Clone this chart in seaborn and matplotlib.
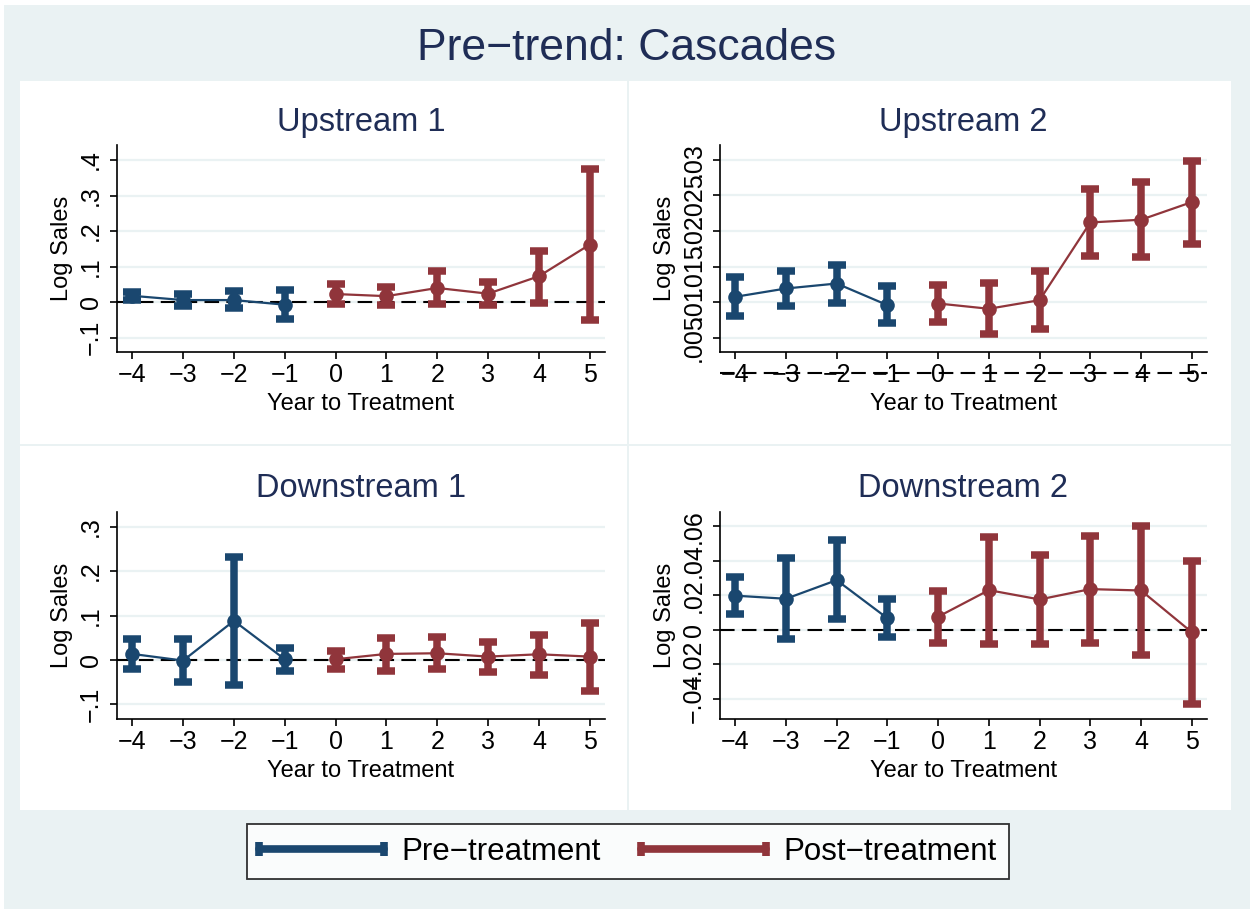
import matplotlib
matplotlib.use("Agg")
import matplotlib.pyplot as plt
from matplotlib.patches import Rectangle
from matplotlib.lines import Line2D
from matplotlib.legend_handler import HandlerLine2D
import seaborn as sns
import pandas as pd
import numpy as np

sns.set_style("white")
plt.rcParams['font.family'] = ['Liberation Sans', 'DejaVu Sans']
plt.rcParams['text.color'] = 'black'

# ---------------- data ----------------
years = [-4, -3, -2, -1, 0, 1, 2, 3, 4, 5]
period = ["Pre-treatment"] * 4 + ["Post-treatment"] * 6
xtick_labels = ["\u22124", "\u22123", "\u22122", "\u22121", "0", "1", "2", "3", "4", "5"]

up1_coef = [0.018, 0.006, 0.006, -0.007, 0.023, 0.017, 0.040, 0.024, 0.073, 0.162]
up1_lo = [0.007, -0.011, -0.016, -0.047, -0.004, -0.008, -0.004, -0.008, -0.002, -0.049]
up1_hi = [0.030, 0.024, 0.031, 0.033, 0.051, 0.042, 0.087, 0.056, 0.145, 0.374]
up1_yticks = [-0.1, 0, 0.1, 0.2, 0.3, 0.4]
up1_ylabels = ["\u2212.1", "0", ".1", ".2", ".3", ".4"]

up2_coef = [0.01075, 0.01192, 0.01262, 0.00958, 0.00981, 0.00907, 0.01028, 0.02121, 0.02159, 0.02407]
up2_lo = [0.00804, 0.00944, 0.00991, 0.00701, 0.00715, 0.00547, 0.00626, 0.01645, 0.01631, 0.01822]
up2_hi = [0.01355, 0.01435, 0.01528, 0.01224, 0.01243, 0.01266, 0.01439, 0.02594, 0.02687, 0.02991]
up2_yticks = [0.005, 0.01, 0.015, 0.02, 0.025, 0.03]
up2_ylabels = [".005", ".01", ".015", ".02", ".025", ".03"]

dn1_coef = [0.0135, -0.0015, 0.088, 0.0015, 0.0015, 0.0135, 0.015, 0.0075, 0.0127, 0.0075]
dn1_lo = [-0.020, -0.050, -0.056, -0.024, -0.020, -0.024, -0.020, -0.028, -0.034, -0.069]
dn1_hi = [0.046, 0.046, 0.232, 0.026, 0.020, 0.050, 0.052, 0.041, 0.057, 0.082]
dn1_yticks = [-0.1, 0, 0.1, 0.2, 0.3]
dn1_ylabels = ["\u2212.1", "0", ".1", ".2", ".3"]

dn2_coef = [0.0197, 0.0179, 0.0287, 0.0066, 0.0075, 0.0229, 0.0175, 0.0235, 0.0227, -0.0015]
dn2_lo = [0.0089, -0.0056, 0.0060, -0.0044, -0.0075, -0.0081, -0.0085, -0.0075, -0.0146, -0.0430]
dn2_hi = [0.0306, 0.0418, 0.0518, 0.0175, 0.0224, 0.0538, 0.0432, 0.0543, 0.0601, 0.0399]
dn2_yticks = [-0.04, -0.02, 0, 0.02, 0.04, 0.06]
dn2_ylabels = ["\u2212.04", "\u2212.02", "0", ".02", ".04", ".06"]

panel_titles = ["Upstream 1", "Upstream 2", "Downstream 1", "Downstream 2"]
main_title = "Pre\u2212trend: Cascades"
legend_labels = ["Pre\u2212treatment", "Post\u2212treatment"]
xlabel_text = "Year to Treatment"
ylabel_text = "Log Sales"

# ---------------- style ----------------
NAVY = "#1A476F"
MAROON = "#90353B"
BG = "#EAF2F3"
TITLE_C = "#1F2D56"
palette = {"Pre-treatment": NAVY, "Post-treatment": MAROON}

W, H = 1250, 909
fig = plt.figure(figsize=(W / 100, H / 100), dpi=100)
fig.patch.set_facecolor("white")


def fr(x0, y0, x1, y1):
    return [x0 / W, 1 - y1 / H, (x1 - x0) / W, (y1 - y0) / H]


def add_rect(x0, y0, x1, y1, fc, ec="none", lw=0):
    fig.patches.append(Rectangle((x0 / W, 1 - y1 / H), (x1 - x0) / W, (y1 - y0) / H,
                                 transform=fig.transFigure, facecolor=fc, edgecolor=ec,
                                 linewidth=lw, zorder=-10))


add_rect(4, 5, W, H, BG)
panels = [(19, 80, 628, 445), (628, 80, 1232, 445), (19, 445, 628, 811), (628, 445, 1232, 811)]
for p in panels:
    add_rect(p[0] + 1, p[1] + 1, p[2] - 1, p[3] - 1, "white")

axes_px = [(117, 145, 605, 352), (720, 145, 1207, 352), (117, 512, 605, 719), (720, 512, 1207, 719)]
ylims = [(-0.140, 0.442), (0.00299, 0.0321), (-0.133, 0.333), (-0.0518, 0.0682)]
datasets = [
    (up1_coef, up1_lo, up1_hi, up1_yticks, up1_ylabels),
    (up2_coef, up2_lo, up2_hi, up2_yticks, up2_ylabels),
    (dn1_coef, dn1_lo, dn1_hi, dn1_yticks, dn1_ylabels),
    (dn2_coef, dn2_lo, dn2_hi, dn2_yticks, dn2_ylabels),
]

for i, (coef, lo, hi, yt, yl) in enumerate(datasets):
    ax = fig.add_axes(fr(*axes_px[i]))
    ax.set_facecolor("white")
    df = pd.DataFrame({"year": years, "coef": coef, "lo": lo, "hi": hi, "period": period})
    # zero reference line
    ax.axhline(0, color="black", lw=1.5, ls=(0, (7, 3.5)), clip_on=False, zorder=1.5)
    for per, g in df.groupby("period"):
        ax.errorbar(g["year"], g["coef"], yerr=[g["coef"] - g["lo"], g["hi"] - g["coef"]],
                    fmt="none", ecolor=palette[per], elinewidth=5.4, capsize=6.5,
                    capthick=5.4, zorder=2)
    sns.lineplot(data=df, x="year", y="coef", hue="period", palette=palette,
                 marker="o", markersize=10.5, markeredgewidth=0, linewidth=1.6,
                 legend=False, ax=ax, zorder=3)
    ax.set_xlim(-4.3, 5.3)
    ax.set_ylim(*ylims[i])
    ax.set_xticks(years)
    ax.set_xticklabels(xtick_labels)
    ax.set_yticks(yt)
    ax.set_yticklabels(yl, rotation=90, va="center")
    ax.grid(axis="y", color=BG, lw=1.6)
    ax.grid(axis="x", visible=False)
    ax.set_axisbelow(True)
    for s in ["top", "right"]:
        ax.spines[s].set_visible(False)
    for s in ["left", "bottom"]:
        ax.spines[s].set_color("black")
        ax.spines[s].set_linewidth(1.2)
    ax.tick_params(axis="both", direction="out", length=5, width=1.2, color="black",
                   labelsize=18, labelcolor="black", left=True, bottom=True)
    ax.tick_params(axis="x", pad=3)
    ax.tick_params(axis="y", pad=5)
    ax.set_xlabel(xlabel_text, fontsize=17, color="black")
    ax.set_ylabel(ylabel_text, fontsize=17, color="black")
    ax.xaxis.set_label_coords(0.5, -0.25)
    ax.xaxis.label.set_va("center")
    ax.yaxis.set_label_coords(-0.113, 0.5)
    ax.yaxis.label.set_va("center")
    x0, y0, x1, y1 = axes_px[i]
    fig.text((x0 + x1) / 2 / W, 1 - (y0 - 23) / H, panel_titles[i], ha="center", va="center",
             fontsize=23.5, color=TITLE_C)

fig.text(627 / W, 1 - 49 / H, main_title, ha="center", va="center", fontsize=32, color=TITLE_C)

handles = [Line2D([0, 1], [0, 0], color=NAVY, lw=5.5, marker="|", markersize=10, mew=5.5),
           Line2D([0, 1], [0, 0], color=MAROON, lw=5.5, marker="|", markersize=10, mew=5.5)]
hmap = {h: HandlerLine2D(marker_pad=0.0, numpoints=2) for h in handles}
leg = fig.legend(handles, legend_labels, loc="center", ncol=2, handler_map=hmap,
                 bbox_to_anchor=(628 / W, 1 - 851.5 / H), fontsize=22.5, frameon=True,
                 fancybox=False, edgecolor="black", handlelength=4.0, handletextpad=0.55,
                 columnspacing=1.3, borderpad=0.4, borderaxespad=0, labelcolor="black")
leg.get_frame().set_linewidth(1.3)
leg.get_frame().set_facecolor("white")

fig.savefig("out.png", dpi=100, facecolor=fig.get_facecolor())
